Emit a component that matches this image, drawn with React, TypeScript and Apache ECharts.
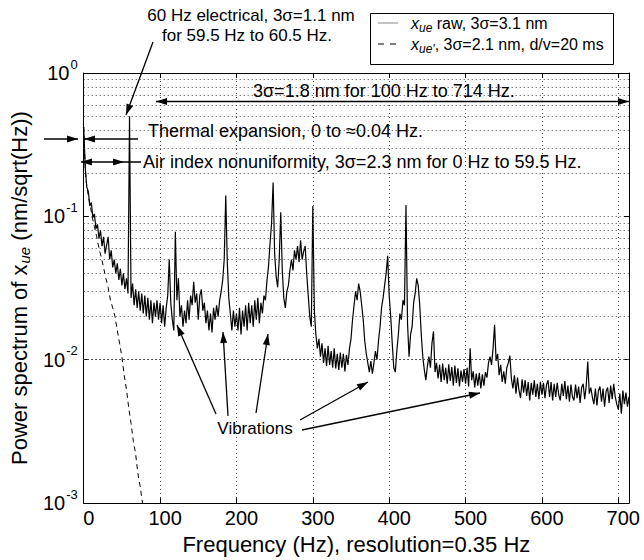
import { useEffect, useRef } from 'react';
import * as echarts from 'echarts';

const FONT = "'Liberation Sans', Arial, Helvetica, sans-serif";

// axis ranges
const X_MIN_HZ = 0;
const X_MAX_HZ = 714;
const X_TICK_HZ = 100;
const Y_MIN = 0.001;
const Y_MAX = 1;

// minor log grid lines (dotted)
const MINOR_GRID = [
  0.002, 0.003, 0.004, 0.005, 0.006, 0.007, 0.008, 0.009,
  0.02, 0.03, 0.04, 0.05, 0.06, 0.07, 0.08, 0.09,
  0.2, 0.3, 0.4, 0.5, 0.6, 0.7, 0.8, 0.9,
];

const RAW_STEP_HZ = 2;
const RAW_VALUES = [
  0.42, 0.22, 0.16, 0.15, 0.118, 0.125, 0.098, 0.104, 0.082, 0.088,
  0.07, 0.08, 0.062, 0.072, 0.055, 0.063, 0.072, 0.05, 0.058, 0.044,
  0.05, 0.04, 0.047, 0.036, 0.043, 0.033, 0.04, 0.031, 0.037, 0.029,
  0.5, 0.027, 0.034, 0.024, 0.031, 0.023, 0.03, 0.022, 0.029, 0.021,
  0.028, 0.02, 0.027, 0.019, 0.026, 0.018, 0.025, 0.02, 0.026, 0.019,
  0.025, 0.018, 0.024, 0.017, 0.023, 0.028, 0.05, 0.025, 0.019, 0.016,
  0.078, 0.026, 0.037, 0.02, 0.024, 0.017, 0.022, 0.018, 0.026, 0.019,
  0.028, 0.024, 0.035, 0.025, 0.029, 0.019, 0.028, 0.031, 0.022, 0.025,
  0.018, 0.022, 0.016, 0.021, 0.0155, 0.023, 0.019, 0.024, 0.02, 0.026,
  0.03, 0.036, 0.05, 0.14, 0.048, 0.027, 0.021, 0.016, 0.022, 0.017,
  0.021, 0.016, 0.023, 0.015, 0.022, 0.017, 0.024, 0.016, 0.025, 0.018,
  0.024, 0.017, 0.026, 0.019, 0.027, 0.018, 0.025, 0.021, 0.028, 0.026,
  0.036, 0.045, 0.065, 0.09, 0.172, 0.055, 0.038, 0.032, 0.05, 0.107,
  0.042, 0.027, 0.023, 0.03, 0.033, 0.042, 0.05, 0.042, 0.058, 0.05,
  0.062, 0.048, 0.068, 0.05, 0.057, 0.062, 0.04, 0.028, 0.02, 0.017,
  0.118, 0.022, 0.015, 0.012, 0.014, 0.0105, 0.013, 0.0095, 0.012, 0.009,
  0.0125, 0.0092, 0.0115, 0.0088, 0.012, 0.0087, 0.011, 0.0085, 0.0112, 0.0088,
  0.011, 0.0083, 0.0108, 0.0092, 0.012, 0.014, 0.019, 0.024, 0.03, 0.026,
  0.034, 0.03, 0.024, 0.019, 0.0135, 0.011, 0.0095, 0.0082, 0.0098, 0.008,
  0.0095, 0.0115, 0.01, 0.0135, 0.017, 0.023, 0.027, 0.033, 0.04, 0.053,
  0.028, 0.02, 0.013, 0.0088, 0.0082, 0.0115, 0.015, 0.021, 0.019, 0.026,
  0.024, 0.12, 0.018, 0.0105, 0.015, 0.017, 0.025, 0.029, 0.037, 0.033,
  0.024, 0.015, 0.0105, 0.0085, 0.0072, 0.009, 0.0105, 0.0088, 0.013, 0.0158,
  0.0082, 0.0095, 0.0074, 0.0092, 0.007, 0.0094, 0.0072, 0.0088, 0.0068, 0.0093,
  0.0071, 0.0089, 0.0066, 0.0091, 0.0069, 0.0087, 0.0065, 0.0084, 0.007, 0.0086,
  0.0068, 0.0088, 0.0065, 0.012, 0.0072, 0.0083, 0.0064, 0.008, 0.0066, 0.0081,
  0.0063, 0.0079, 0.0066, 0.0082, 0.0075, 0.0095, 0.0105, 0.0092, 0.012, 0.0175,
  0.0098, 0.011, 0.0078, 0.0092, 0.007, 0.0083, 0.0068, 0.0088, 0.0095, 0.0107,
  0.0074, 0.0063, 0.0078, 0.0058, 0.0075, 0.0061, 0.0054, 0.0073, 0.0059, 0.0072,
  0.0056, 0.007, 0.0052, 0.0069, 0.0057, 0.0072, 0.0055, 0.0068, 0.0053, 0.007,
  0.0057, 0.0069, 0.0054, 0.0067, 0.0072, 0.0055, 0.007, 0.0052, 0.0068, 0.0055,
  0.0069, 0.0057, 0.0052, 0.0068, 0.0056, 0.0071, 0.0053, 0.0066, 0.0051, 0.0067,
  0.0055, 0.0052, 0.0067, 0.0054, 0.0065, 0.005, 0.0064, 0.0068, 0.0053, 0.0066,
  0.0097, 0.0058, 0.0064, 0.0055, 0.0049, 0.0063, 0.0048, 0.0061, 0.0065, 0.0051,
  0.0063, 0.0047, 0.006, 0.0064, 0.005, 0.0066, 0.0053, 0.0068, 0.0055, 0.0049,
  0.0045, 0.0058, 0.0042, 0.0061, 0.0049, 0.0059, 0.0047, 0.0055,
];

// filtered spectrum x_ue' (dashed)
const FILT_FREQ = [0, 1, 2, 3, 5, 7, 9, 11, 14, 17, 20, 23, 26, 29, 32, 35, 38, 41, 44, 47, 50, 53, 56, 59, 62, 65, 68, 71, 74, 77, 80];
const FILT_VALUES = [
  0.42, 0.3, 0.22, 0.18, 0.15, 0.13, 0.115, 0.1, 0.085, 0.072, 0.06, 0.052, 0.044, 0.037, 0.032,
  0.026, 0.023, 0.02, 0.016, 0.013, 0.0105, 0.0078, 0.0062, 0.0046, 0.0036, 0.0027, 0.0022, 0.0016,
  0.0013, 0.001, 0.0008,
];

type Pt = [number, number];

function arrow(x1: number, y1: number, x2: number, y2: number, headEnd: boolean, headStart: boolean, extraHeadX?: number): any[] {
  const els: any[] = [
    { type: 'line', z: 100, shape: { x1, y1, x2, y2 }, style: { stroke: '#000', lineWidth: 1.3 } },
  ];
  const head = (tx: number, ty: number, fx: number, fy: number) => {
    const dx = tx - fx;
    const dy = ty - fy;
    const L = Math.hypot(dx, dy);
    const ux = dx / L;
    const uy = dy / L;
    const len = 11;
    const w = 3.5;
    const bx = tx - ux * len;
    const by = ty - uy * len;
    const pts: Pt[] = [
      [tx, ty],
      [bx - uy * w, by + ux * w],
      [bx + uy * w, by - ux * w],
    ];
    return { type: 'polygon', z: 101, shape: { points: pts }, style: { fill: '#000' } };
  };
  if (headEnd) els.push(head(x2, y2, x1, y1));
  if (headStart) els.push(head(x1, y1, x2, y2));
  if (extraHeadX !== undefined) els.push(head(extraHeadX, y1, extraHeadX - 10, y1));
  return els;
}

function txt(x: number, y: number, text: string, size: number, align: string = 'left', rich?: any): any {
  return {
    type: 'text',
    z: 102,
    x,
    y,
    style: {
      text,
      fontFamily: FONT,
      fontSize: size,
      fill: '#000',
      textAlign: align,
      textVerticalAlign: 'middle',
      align,
      verticalAlign: 'middle',
      rich,
    },
  };
}

export default function App() {
  const ref = useRef<HTMLDivElement>(null);
  useEffect(() => {
    if (!ref.current) return;
    const chart = echarts.init(ref.current, null, { renderer: 'svg' });
    const rawData = RAW_VALUES.map((v, i) => [i * RAW_STEP_HZ, v]);
    const filtData = FILT_FREQ.map((f, i) => [f, FILT_VALUES[i]]);
    const dotted = { color: '#444', type: [1, 3] as any, width: 1 };

    const legendRich = {
      i: { fontFamily: FONT, fontSize: 16, fontStyle: 'italic', fill: '#000' },
      s: { fontFamily: FONT, fontSize: 12, fontStyle: 'italic', fill: '#000', padding: [9, 0, 0, 0] },
      n: { fontFamily: FONT, fontSize: 16, fill: '#000' },
    };

    const graphics: any[] = [
      // legend box
      { type: 'rect', z: 100, shape: { x: 370.5, y: 13.5, width: 243, height: 51 }, style: { fill: '#fff', stroke: '#000', lineWidth: 1 } },
      { type: 'line', z: 101, shape: { x1: 378, y1: 23, x2: 398, y2: 23 }, style: { stroke: '#888', lineWidth: 1 } },
      { type: 'line', z: 101, shape: { x1: 378, y1: 44, x2: 400, y2: 44 }, style: { stroke: '#000', lineWidth: 1, lineDash: [6, 6] } },
      txt(411, 23, '{i|x}{s|ue}{n| raw, 3σ=3.1 nm}', 16, 'left', legendRich),
      txt(411, 44, "{i|x}{s|ue'}{n|, 3σ=2.1 nm, d/v=20 ms}", 16, 'left', legendRich),
      // top annotation (60 Hz)
      txt(251, 15, '60 Hz electrical, 3σ=1.1 nm', 17, 'center'),
      txt(247, 35.5, 'for 59.5 Hz to 60.5 Hz.', 17, 'center'),
      ...arrow(153, 42, 126, 115, true, false),
      // 100-714 Hz band
      txt(253, 91, '3σ=1.8 nm for 100 Hz to 714 Hz.', 18),
      ...arrow(156, 101.5, 629, 101.5, true, true),
      // thermal expansion
      txt(148, 131, 'Thermal expansion, 0 to ≈0.04 Hz.', 18),
      ...arrow(44, 139, 78, 139, true, false),
      ...arrow(138, 139, 84, 139, true, false),
      // air index
      txt(143, 162, 'Air index nonuniformity, 3σ=2.3 nm for 0 Hz to 59.5 Hz.', 18),
      ...arrow(141, 162, 81, 162, true, false, 124),
      // vibrations
      txt(255, 428, 'Vibrations', 17, 'center'),
      ...arrow(216, 414, 177, 325, true, false),
      ...arrow(228, 416, 223, 332, true, false),
      ...arrow(256, 413, 268, 334, true, false),
      ...arrow(300, 420, 368, 382, true, false),
      ...arrow(302, 430, 480, 393, true, false),
    ];

    const option: any = {
      animation: false,
      backgroundColor: '#fff',
      grid: { left: 78, right: 15, top: 73, bottom: 54, containLabel: false },
      xAxis: [
        {
          type: 'value',
          min: X_MIN_HZ,
          max: X_MAX_HZ,
          interval: X_TICK_HZ,
          position: 'bottom',
          name: 'Frequency (Hz), resolution=0.35 Hz',
          nameLocation: 'middle',
          nameGap: 27,
          nameTextStyle: { fontFamily: FONT, fontSize: 22, color: '#000' },
          axisLine: { show: true, onZero: false, lineStyle: { color: '#000', width: 1 } },
          axisTick: { show: true, inside: true, length: 5, lineStyle: { color: '#000' } },
          axisLabel: {
            fontFamily: FONT,
            fontSize: 20,
            color: '#000',
            margin: 5,
            padding: [0, 0, 0, 10],
            showMaxLabel: false,
            formatter: (v: number) => (v % X_TICK_HZ === 0 ? String(v) : ''),
          },
          splitLine: { show: true, lineStyle: dotted },
        },
        {
          type: 'value',
          min: X_MIN_HZ,
          max: X_MAX_HZ,
          interval: X_TICK_HZ,
          position: 'top',
          axisLine: { show: true, onZero: false, lineStyle: { color: '#000', width: 1 } },
          axisTick: { show: true, inside: true, length: 5, lineStyle: { color: '#000' } },
          axisLabel: { show: false },
          splitLine: { show: false },
        },
      ],
      yAxis: [
        {
          type: 'log',
          logBase: 10,
          min: Y_MIN,
          max: Y_MAX,
          position: 'left',
          name: '{t|Power spectrum of x}{s|ue}{t| (nm/sqrt(Hz))}',
          nameLocation: 'middle',
          nameRotate: 90,
          nameGap: 44,
          nameTextStyle: {
            color: '#000',
            rich: {
              t: { fontFamily: FONT, fontSize: 22, color: '#000' },
              s: { fontFamily: FONT, fontSize: 15, fontStyle: 'italic', color: '#000', padding: [11, 0, 0, 1] },
            },
          },
          axisLine: { show: true, onZero: false, lineStyle: { color: '#000', width: 1 } },
          axisTick: { show: true, inside: true, length: 5, lineStyle: { color: '#000' } },
          axisLabel: {
            color: '#000',
            margin: 6,
            formatter: (v: number) => `{b|10}{e|${Math.round(Math.log10(v))}}`,
            rich: {
              b: { fontFamily: FONT, fontSize: 20, color: '#000' },
              e: { fontFamily: FONT, fontSize: 13, color: '#000', padding: [0, 0, 18, 1] },
            },
          },
          splitLine: { show: true, lineStyle: dotted },
        },
        {
          type: 'log',
          logBase: 10,
          min: Y_MIN,
          max: Y_MAX,
          position: 'right',
          axisLine: { show: true, onZero: false, lineStyle: { color: '#000', width: 1 } },
          axisTick: { show: true, inside: true, length: 5, lineStyle: { color: '#000' } },
          axisLabel: { show: false },
          splitLine: { show: false },
        },
      ],
      series: [
        {
          name: "x_ue'",
          type: 'line',
          xAxisIndex: 0,
          yAxisIndex: 0,
          data: filtData,
          showSymbol: false,
          symbol: 'none',
          z: 2,
          lineStyle: { color: '#000', width: 1, type: [5, 4] },
          markLine: {
            silent: true,
            symbol: 'none',
            label: { show: false },
            lineStyle: dotted,
            data: MINOR_GRID.map((v) => ({ yAxis: v })),
          },
        },
        {
          name: 'x_ue raw',
          type: 'line',
          xAxisIndex: 0,
          yAxisIndex: 0,
          data: rawData,
          showSymbol: false,
          symbol: 'none',
          z: 3,
          lineStyle: { color: '#000', width: 1.2 },
        },
      ],
      graphic: { elements: graphics },
    };
    chart.setOption(option);
    return () => chart.dispose();
  }, []);
  return <div ref={ref} style={{ position: 'fixed', left: 0, top: 0, width: 644, height: 560, background: '#fff' }} />;
}
